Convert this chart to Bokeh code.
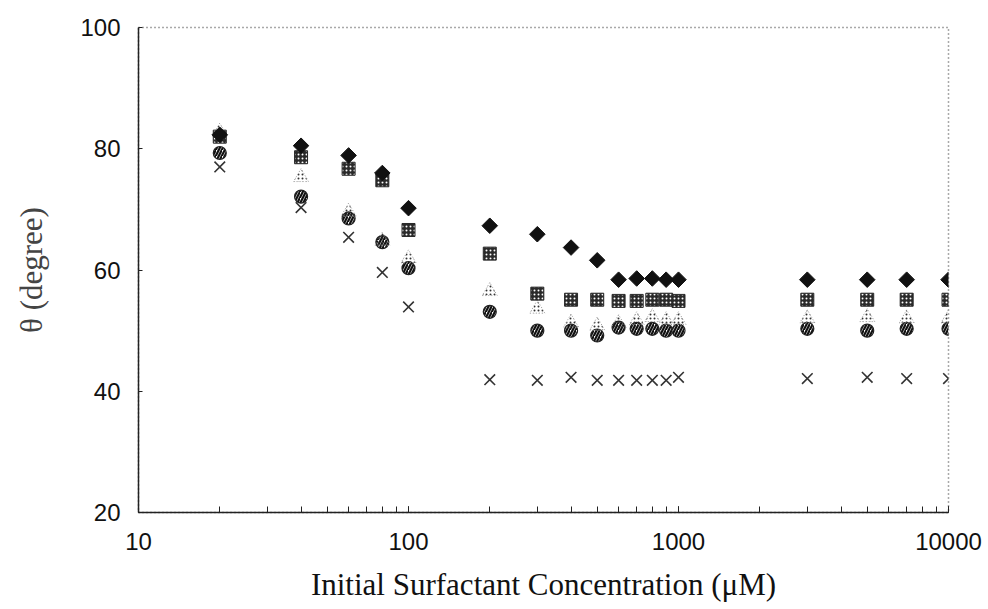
import math
from bokeh.plotting import figure
from bokeh.models import LogTicker, FixedTicker, ColumnDataSource, Range1d, PrintfTickFormatter
from bokeh.embed import file_html
from bokeh.resources import INLINE

conc = [20, 40, 60, 80, 100, 200, 300, 400, 500, 600, 700, 800, 900, 1000, 3000, 5000, 7000, 10000]
s_diamond = [82.3, 80.5, 78.9, 76.0, 70.2, 67.3, 65.9, 63.7, 61.6, 58.4, 58.6, 58.6, 58.4, 58.4, 58.4, 58.4, 58.4, 58.4]
s_square = [82.0, 78.6, 76.7, 74.8, 66.6, 62.7, 56.1, 55.1, 55.1, 54.9, 54.9, 55.1, 55.1, 54.9, 55.1, 55.1, 55.1, 55.1]
s_triangle = [82.8, 75.3, 69.6, 64.8, 61.9, 56.5, 53.6, 51.3, 50.8, 51.2, 51.7, 52.2, 51.7, 51.7, 52.0, 52.2, 52.0, 52.0]
s_circle = [79.3, 72.1, 68.5, 64.6, 60.3, 53.1, 50.0, 50.0, 49.2, 50.5, 50.3, 50.3, 50.0, 50.0, 50.3, 50.0, 50.3, 50.3]
s_x = [77.0, 70.3, 65.4, 59.6, 53.9, 41.9, 41.8, 42.3, 41.8, 41.8, 41.8, 41.8, 41.8, 42.3, 42.1, 42.3, 42.1, 42.1]
y_ticks = [20, 40, 60, 80, 100]

src = ColumnDataSource(dict(x=conc, d=s_diamond, s=s_square, t=s_triangle, c=s_circle, xx=s_x))

p = figure(width=988, height=609, x_axis_type="log", output_backend="svg",
           toolbar_location=None, x_range=Range1d(10, 10000), y_range=Range1d(20, 100),
           min_border_left=138, min_border_right=40, min_border_top=27, min_border_bottom=97)
p.background_fill_color = "white"
p.border_fill_color = "white"
p.xgrid.grid_line_color = None
p.ygrid.grid_line_color = None
p.outline_line_color = "#555555"
p.outline_line_dash = "1 3"
p.outline_line_width = 1.5

# series
p.scatter("x", "xx", source=src, marker="x", size=15, line_color="#333333", line_width=1.6)
p.scatter("x", "c", source=src, marker="circle", size=13, fill_color="white", line_color="#222222",
          line_width=1.2, hatch_pattern="/", hatch_color="#111111",
          hatch_scale=6, hatch_weight=2.2)
p.scatter("x", "t", source=src, marker="triangle", size=15, fill_color="white", fill_alpha=0.0,
          line_color="#999999", line_width=1, line_dash="1 2", hatch_pattern=".",
          hatch_color="#333333", hatch_scale=4, hatch_weight=1.5)
p.scatter("x", "s", source=src, marker="square", size=13, fill_color="#2a2a2a", line_color="#2a2a2a",
          hatch_pattern=".", hatch_color="white", hatch_scale=4, hatch_weight=1.8)
p.scatter("x", "d", source=src, marker="square", size=11, angle=math.pi / 4,
          fill_color="#111111", line_color="#111111")

# axes
xa = p.xaxis[0]
xa.ticker = LogTicker(num_minor_ticks=10)
xa.formatter = PrintfTickFormatter(format="%d")
xa.axis_label = "Initial Surfactant Concentration (\u03bcM)"
xa.axis_label_text_font = "Liberation Serif"
xa.axis_label_text_font_size = "31px"
xa.axis_label_text_font_style = "normal"
xa.axis_label_text_color = "#111111"
xa.axis_label_standoff = 14
xa.major_label_text_font = "Liberation Sans"
xa.major_label_text_font_size = "24px"
xa.major_label_text_color = "#111111"
xa.major_label_standoff = 20
xa.major_tick_in = 6
xa.major_tick_out = 0
xa.minor_tick_in = 6
xa.minor_tick_out = 0
xa.axis_line_color = "#222222"
xa.axis_line_width = 1.5
xa.major_tick_line_color = "#222222"
xa.minor_tick_line_color = "#222222"

ya = p.yaxis[0]
ya.ticker = FixedTicker(ticks=y_ticks)
ya.axis_label = "\u03b8 (degree)"
ya.axis_label_text_font = "Liberation Serif"
ya.axis_label_text_font_size = "31px"
ya.axis_label_text_font_style = "normal"
ya.axis_label_text_color = "#444444"
ya.axis_label_standoff = 28
ya.major_label_text_font = "Liberation Sans"
ya.major_label_text_font_size = "24px"
ya.major_label_text_color = "#111111"
ya.major_label_standoff = 18
ya.major_tick_in = 4
ya.major_tick_out = 0
ya.minor_tick_line_color = None
ya.axis_line_color = "#222222"
ya.axis_line_width = 1.5
ya.major_tick_line_color = "#222222"

open("out.html", "w").write(file_html(p, INLINE))
